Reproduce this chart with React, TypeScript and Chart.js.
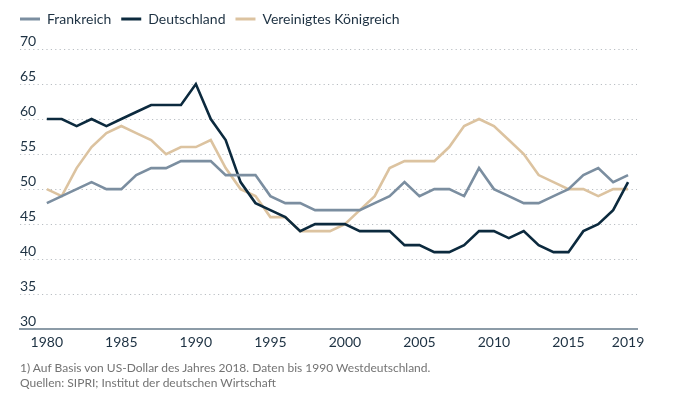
import React, { useEffect, useRef } from "react";
import { Chart, registerables } from "chart.js";

Chart.register(...registerables);

const years = [
  1980, 1981, 1982, 1983, 1984, 1985, 1986, 1987, 1988, 1989,
  1990, 1991, 1992, 1993, 1994, 1995, 1996, 1997, 1998, 1999,
  2000, 2001, 2002, 2003, 2004, 2005, 2006, 2007, 2008, 2009,
  2010, 2011, 2012, 2013, 2014, 2015, 2016, 2017, 2018, 2019,
];

const frankreich = [
  48, 49, 50, 51, 50, 50, 52, 53, 53, 54,
  54, 54, 52, 52, 52, 49, 48, 48, 47, 47,
  47, 47, 48, 49, 51, 49, 50, 50, 49, 53,
  50, 49, 48, 48, 49, 50, 52, 53, 51, 52,
];

const deutschland = [
  60, 60, 59, 60, 59, 60, 61, 62, 62, 62,
  65, 60, 57, 51, 48, 47, 46, 44, 45, 45,
  45, 44, 44, 44, 42, 42, 41, 41, 42, 44,
  44, 43, 44, 42, 41, 41, 44, 45, 47, 51,
];

const vereinigtesKoenigreich = [
  50, 49, 53, 56, 58, 59, 58, 57, 55, 56,
  56, 57, 53, 50, 49, 46, 46, 44, 44, 44,
  45, 47, 49, 53, 54, 54, 54, 56, 59, 60,
  59, 57, 55, 52, 51, 50, 50, 49, 50, 50,
];

const xTickYears = [1980, 1985, 1990, 1995, 2000, 2005, 2010, 2015, 2019];
const yMin = 30;
const yMax = 70;
const yStep = 5;

const footnotes = [
  "1) Auf Basis von US-Dollar des Jahres 2018. Daten bis 1990 Westdeutschland.",
  "Quellen: SIPRI; Institut der deutschen Wirtschaft",
];

const FONT = "Lato, 'Noto Sans', sans-serif";
const TEXT_COLOR = "#1d3142";

const legendSpacer = {
  id: "legendSpacer",
  beforeLayout(chart: any) {
    const l = chart.legend;
    if (l && !l._spacerPatched) {
      const orig = l.fit;
      l.fit = function () {
        orig.call(this);
        this.height += 13;
      };
      l._spacerPatched = true;
    }
  },
};

export default function App() {
  const canvasRef = useRef<HTMLCanvasElement | null>(null);

  useEffect(() => {
    const canvas = canvasRef.current;
    if (!canvas) return;
    const toPoints = (vals: number[]) => vals.map((v, i) => ({ x: years[i], y: v }));
    const chart = new Chart(canvas, {
      type: "line",
      data: {
        datasets: [
          {
            label: "Frankreich",
            data: toPoints(frankreich),
            borderColor: "#7b8ea0",
            backgroundColor: "#7b8ea0",
            borderWidth: 2.6,
            pointRadius: 0,
            tension: 0,
          },
          {
            label: "Deutschland",
            data: toPoints(deutschland),
            borderColor: "#0c2a3e",
            backgroundColor: "#0c2a3e",
            borderWidth: 2.6,
            pointRadius: 0,
            tension: 0,
          },
          {
            label: "Vereinigtes Königreich",
            data: toPoints(vereinigtesKoenigreich),
            borderColor: "#dcc3a0",
            backgroundColor: "#dcc3a0",
            borderWidth: 2.6,
            pointRadius: 0,
            tension: 0,
          },
        ],
      },
      options: {
        responsive: false,
        animation: false,
        events: [],
        layout: { padding: { left: 10, right: 53, top: 2, bottom: 44 } },
        font: { family: FONT },
        plugins: {
          tooltip: { enabled: false },
          legend: {
            position: "top",
            align: "start",
            labels: {
              boxWidth: 20,
              boxHeight: 3,
              padding: 10,
              color: TEXT_COLOR,
              font: { family: FONT, size: 14 },
              generateLabels: (c: any) =>
                Chart.defaults.plugins.legend.labels.generateLabels(c).map((l: any) => ({
                  ...l,
                  lineWidth: 0,
                  fillStyle: l.strokeStyle,
                })),
            },
          },
        },
        scales: {
          x: {
            type: "linear",
            min: 1978.2,
            max: 2019.6,
            afterBuildTicks: (scale: any) => {
              scale.ticks = xTickYears.map((v) => ({ value: v }));
            },
            grid: { display: false, drawTicks: false },
            border: { display: true, color: "#8c9ba7", width: 2 },
            ticks: {
              autoSkip: false,
              maxRotation: 0,
              padding: 5,
              color: TEXT_COLOR,
              font: { family: FONT, size: 14 },
              callback: (v: any) => String(v),
            },
          },
          y: {
            type: "linear",
            min: yMin,
            max: yMax,
            afterFit: (scale: any) => {
              scale.width = 10;
            },
            grid: { color: "#b9bec3", lineWidth: 1, drawTicks: false },
            border: { display: false, dash: [1.2, 3.2] },
            ticks: {
              stepSize: yStep,
              mirror: true,
              padding: 0,
              labelOffset: -7.5,
              color: TEXT_COLOR,
              font: { family: FONT, size: 14 },
            },
          },
        },
      },
      plugins: [legendSpacer],
    } as any);
    return () => chart.destroy();
  }, []);

  return (
    <div style={{ position: "absolute", left: 0, top: 0, width: 690, height: 400, background: "#fff" }}>
      <canvas ref={canvasRef} width={690} height={400} style={{ display: "block" }} />
      <div
        style={{
          position: "absolute",
          left: 20,
          top: 361,
          fontFamily: FONT,
          fontSize: 12,
          lineHeight: "14.5px",
          color: "#737373",
          whiteSpace: "nowrap",
        }}
      >
        {footnotes.map((t) => (
          <div key={t}>{t}</div>
        ))}
      </div>
    </div>
  );
}
